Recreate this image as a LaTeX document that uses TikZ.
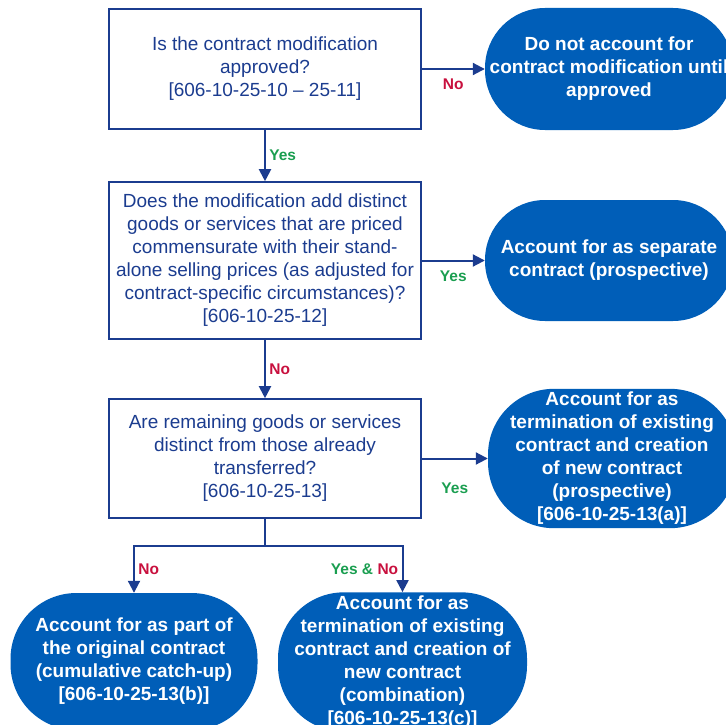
\documentclass[tikz,border=0pt]{standalone}
\usepackage{fontspec}
\setmainfont{Liberation Sans}
\usetikzlibrary{arrows.meta}
\definecolor{navy}{HTML}{1B3C8F}
\definecolor{ovalblue}{HTML}{005EB8}
\definecolor{nored}{HTML}{C8103E}
\definecolor{yesgreen}{HTML}{1A9E50}
\tikzset{
  question/.style={draw=navy, line width=1.6pt, text=navy, align=center,
    minimum width=312pt, font=\fontsize{19}{23}\selectfont},
  result/.style={fill=ovalblue, text=white, align=center, rounded corners=60pt,
    minimum width=248pt, minimum height=121pt, font=\bfseries\fontsize{19}{23}\selectfont},
  flow/.style={draw=navy, line width=2pt, -{Triangle[length=12pt,width=12pt]}},
  yes/.style={text=yesgreen, font=\bfseries\fontsize{15.5}{18}\selectfont},
  no/.style={text=nored, font=\bfseries\fontsize{15.5}{18}\selectfont}
}
\begin{document}
\begin{tikzpicture}[x=1pt, y=-1pt]
\useasboundingbox (0,0) rectangle (726,725);
\clip (0,0) rectangle (726,725);
 % questions:
\node[question, minimum height=120pt] (b1) at (265,69)
  {Is the contract modification\\ approved?\\ {[606-10-25-10 -- 25-11]}};
\node[question, minimum height=157pt] (b2) at (265,260.5)
  {Does the modification add distinct\\ goods or services that are priced\\
   commensurate with their stand-\\ alone selling prices (as adjusted for\\
   contract-specific circumstances)?\\ {[606-10-25-12]}};
\node[question, minimum height=119pt] (b3) at (265,458.5)
  {Are remaining goods or services\\ distinct from those already\\ transferred?\\ {[606-10-25-13]}};
 % outcomes:
\node[result, minimum height=122pt] (o1) at (609,69)
  {Do not account for\\ contract modification until\\ approved};
\node[result] (o2) at (609,260.5)
  {Account for as separate\\ contract (prospective)};
\node[result, minimum height=137pt, rounded corners=66pt] (o3) at (612,458.5)
  {Account for as\\ termination of existing\\ contract and creation\\ of new contract\\
   (prospective)\\ {[606-10-25-13(a)]}};
\node[result, minimum width=247pt, minimum height=137pt, rounded corners=66pt] (o4) at (134,661.5)
  {Account for as part of\\ the original contract\\ (cumulative catch-up)\\ {[606-10-25-13(b)]}};
\node[result, minimum width=249pt, minimum height=138pt, rounded corners=66pt] (o5) at (402.5,662)
  {Account for as\\ termination of existing\\ contract and creation of\\ new contract\\
   (combination)\\ {[606-10-25-13(c)]}};
 % arrows:
\draw[flow] (b1) -- node[right, yes] (yes1) {Yes} (b2);
\draw[flow] (b1) -- node[below=6pt, no] (no1) {No} (o1);
\draw[flow] (b2) -- node[below=6pt, yes] (yes2) {Yes} (o2);
\draw[flow] (b2) -- node[right, no] (no2) {No} (b3);
\draw[flow] (b3) -- node[below=20pt, yes] (yes3) {Yes} (o3);
\draw[flow] (b3.south) -- ++(0,27) -| node[pos=0.75, right, no] (no3) {No} (o4.north);
\draw[flow] (b3.south) -- ++(0,27) -| node[pos=0.75, left, no] (yesno) {{\color{yesgreen}Yes \&} No} (o5.north);
\end{tikzpicture}
\end{document}
